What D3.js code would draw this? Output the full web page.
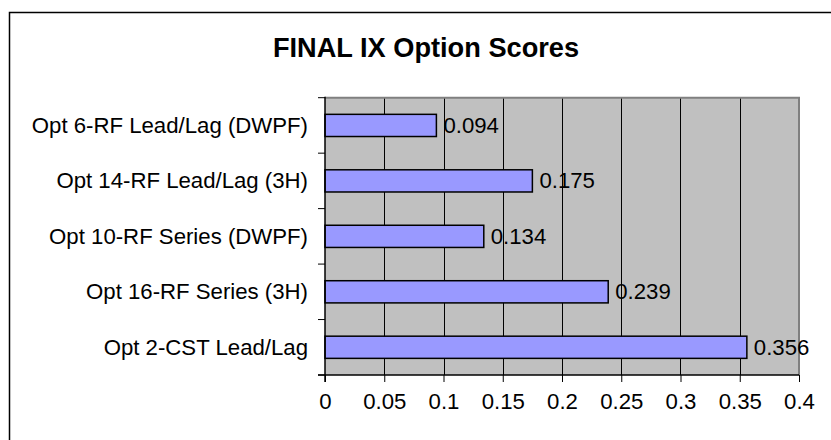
<!DOCTYPE html>
<html>
<head>
<meta charset="utf-8">
<script src="https://cdn.jsdelivr.net/npm/d3@7"></script>
<style>
  html, body { margin: 0; padding: 0; background: #fff; }
  svg { display: block; }
  text { font-family: "Liberation Sans", Arial, sans-serif; fill: #000; }
</style>
</head>
<body>
<script>
const categories = ["Opt 6-RF Lead/Lag (DWPF)", "Opt 14-RF Lead/Lag (3H)", "Opt 10-RF Series (DWPF)", "Opt 16-RF Series (3H)", "Opt 2-CST Lead/Lag"];
const scores = [0.094, 0.175, 0.134, 0.239, 0.356];
const labels = ["0.094", "0.175", "0.134", "0.239", "0.356"];
const xTicks = [0, 0.05, 0.1, 0.15, 0.2, 0.25, 0.3, 0.35, 0.4];
const xTickLabels = ["0", "0.05", "0.1", "0.15", "0.2", "0.25", "0.3", "0.35", "0.4"];
const title = "FINAL IX Option Scores";

(function () {
const W = 831, H = 440;
const FS = 22.2;
const svg = d3.select("body").append("svg").attr("width", W).attr("height", H);

// outer chart border (extends beyond the visible area on right/bottom)
svg.append("rect").attr("x", 9.5).attr("y", 12.5).attr("width", 900).attr("height", 600)
  .attr("fill", "#fff").attr("stroke", "#000").attr("stroke-width", 1.5);

const pL = 325, pR = 799, pT = 97.7, pB = 375;
const x = d3.scaleLinear().domain([0, 0.4]).range([pL, pR]);
const y = d3.scaleBand().domain(categories).range([pT, pB]).paddingInner(0.6).paddingOuter(0.3);
const band = (pB - pT) / categories.length;

// plot background
svg.append("rect").attr("x", pL).attr("y", pT).attr("width", pR - pL).attr("height", pB - pT)
  .attr("fill", "#C0C0C0");

// gridlines
svg.append("g").selectAll("line").data(xTicks.slice(1, -1)).join("line")
  .attr("x1", d => Math.round(x(d)) + 0.5).attr("x2", d => Math.round(x(d)) + 0.5)
  .attr("y1", pT).attr("y2", pB).attr("stroke", "#000").attr("stroke-width", 1);

// plot border top/right gray
svg.append("path").attr("d", `M${pL},${pT}H${pR}V${pB}`)
  .attr("fill", "none").attr("stroke", "#808080").attr("stroke-width", 2);

// bars
svg.append("g").selectAll("rect").data(scores).join("rect")
  .attr("x", x(0))
  .attr("y", (d, i) => y(categories[i]))
  .attr("width", d => x(d) - x(0))
  .attr("height", y.bandwidth())
  .attr("fill", "#9999FF").attr("stroke", "#000").attr("stroke-width", 1.5);

// data labels
svg.append("g").selectAll("text").data(scores).join("text")
  .attr("x", d => x(d) + 7)
  .attr("y", (d, i) => y(categories[i]) + y.bandwidth() / 2)
  .attr("dy", "0.33em")
  .attr("font-size", FS)
  .text((d, i) => labels[i]);

// bottom axis
const xAxis = d3.axisBottom(x).tickValues(xTicks).tickFormat((d, i) => xTickLabels[i])
  .tickSizeInner(7).tickSizeOuter(0);
const gx = svg.append("g").attr("transform", `translate(0,${pB})`).call(xAxis);
gx.select(".domain").attr("stroke", "#000").attr("stroke-width", 1.5).attr("d", `M${pL - 7},0H${pR}`);
gx.selectAll(".tick line").attr("stroke", "#000").attr("stroke-width", 1);
gx.selectAll(".tick text").attr("font-size", FS).attr("font-family", "Liberation Sans, Arial, sans-serif")
  .attr("fill", "#000").attr("y", 18).attr("dy", "0.71em");

// left axis
svg.append("line").attr("x1", pL).attr("x2", pL).attr("y1", pT - 1).attr("y2", pB + 7)
  .attr("stroke", "#000").attr("stroke-width", 1.5);
const bounds = d3.range(categories.length + 1).map(i => pT + i * band);
svg.append("g").selectAll("line").data(bounds).join("line")
  .attr("x1", pL - 7).attr("x2", pL).attr("y1", d => d).attr("y2", d => d)
  .attr("stroke", "#000").attr("stroke-width", 1);

// category labels
svg.append("g").selectAll("text").data(categories).join("text")
  .attr("x", 308).attr("text-anchor", "end")
  .attr("y", d => y(d) + y.bandwidth() / 2)
  .attr("dy", "0.34em")
  .attr("font-size", FS)
  .text(d => d);

// title
svg.append("text").attr("x", 426).attr("y", 56.5).attr("text-anchor", "middle")
  .attr("font-size", 27.2).attr("font-weight", "bold").text(title);
})();
</script>
</body>
</html>
